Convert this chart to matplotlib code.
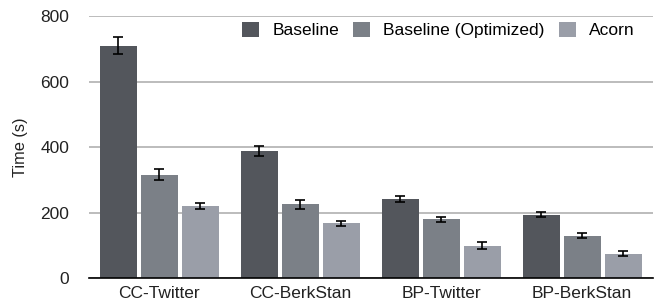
import numpy as np
import matplotlib.pyplot as plt

plt.rcParams['font.family'] = ['Liberation Sans', 'DejaVu Sans']

categories = ["CC-Twitter", "CC-BerkStan", "BP-Twitter", "BP-BerkStan"]
series = ["Baseline", "Baseline (Optimized)", "Acorn"]
baseline = [710, 387, 241, 194]
baseline_err = [27, 15, 10, 8]
optimized = [316, 225, 179, 130]
optimized_err = [18, 13, 9, 7]
acorn = [220, 167, 99, 75]
acorn_err = [9, 8, 10, 8]
colors = ["#53565c", "#7b8087", "#9a9ea8"]

values = [baseline, optimized, acorn]
errors = [baseline_err, optimized_err, acorn_err]

fig = plt.figure(figsize=(6.54, 3.08), dpi=100)
ax = fig.add_axes([0.136, 0.097, 0.862, 0.851])

x = np.arange(len(categories))
pitch = 0.291
width = 0.262
for i in range(3):
    ax.bar(x + (i - 1) * pitch, values[i], width, color=colors[i],
           label=series[i], zorder=3,
           yerr=errors[i], capsize=3.5,
           error_kw=dict(ecolor='black', elinewidth=1.2, capthick=1.2, zorder=4))

ax.set_xlim(-0.5, 3.5)
ax.set_ylim(0, 800)
ax.set_yticks([0, 200, 400, 600, 800])
ax.set_xticks(x)
ax.set_xticklabels(categories)
ax.yaxis.grid(True, color='#b0b0b0', linewidth=1.2, zorder=0)
ax.set_axisbelow(True)
for s in ['top', 'right', 'left']:
    ax.spines[s].set_visible(False)
ax.spines['bottom'].set_color('black')
ax.spines['bottom'].set_linewidth(1.2)
ax.spines['bottom'].set_zorder(5)
ax.tick_params(axis='both', length=0, labelsize=12.5, colors='#222222')
ax.tick_params(axis='y', pad=14)
ax.tick_params(axis='x', pad=6)
ax.set_ylabel("Time (s)", fontsize=11.8, color='#222222', va='center')
ax.yaxis.set_label_coords(-0.1206, 0.5)

ax.legend(ncol=3, frameon=False, fontsize=12.5, loc='center right',
          bbox_to_anchor=(0.968, 0.947), handlelength=1.0, handleheight=1.0,
          columnspacing=0.8, handletextpad=0.75, borderaxespad=0, borderpad=0)

fig.savefig("out.png", dpi=100)
